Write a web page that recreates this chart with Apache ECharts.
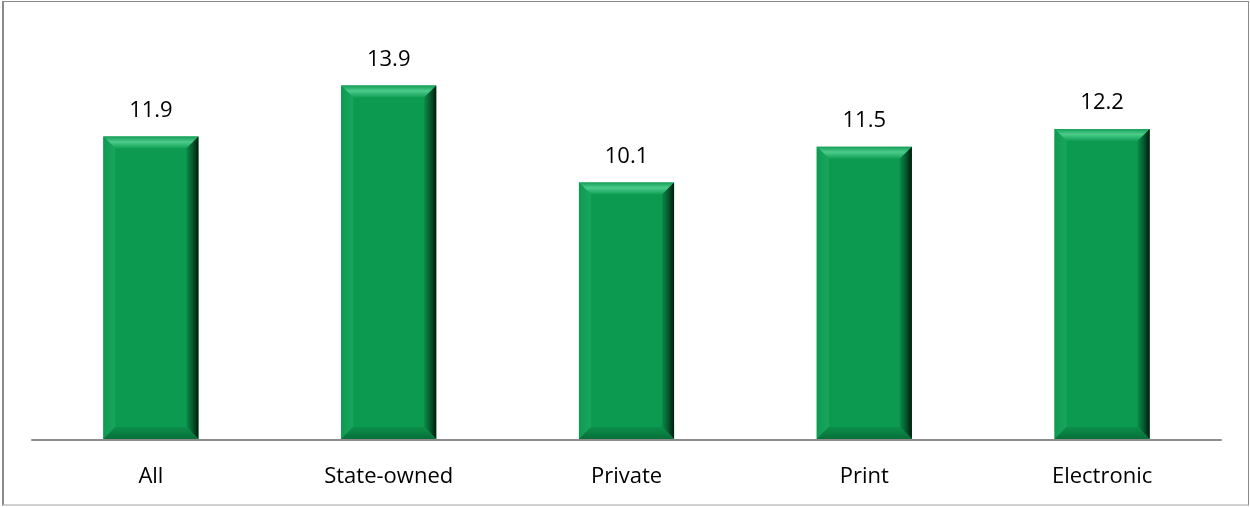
<!DOCTYPE html>
<html><head><meta charset="utf-8">
<script src="https://cdn.jsdelivr.net/npm/echarts@6/dist/echarts.min.js"></script>
<style>
html,body{margin:0;padding:0;background:#fff;}
#frame{position:absolute;left:2px;top:1px;width:1244px;height:502px;border:1px solid #8a8a8a;border-left-width:2px;border-bottom:2px solid #d0d0d0;}
#c{position:absolute;left:0;top:0;width:1250px;height:507px;}
</style></head>
<body>
<div id="frame"></div>
<div id="c"></div>
<script>
const categories = ['All', 'State-owned', 'Private', 'Print', 'Electronic'];
const values = [11.9, 13.9, 10.1, 11.5, 12.2];

const chart = echarts.init(document.getElementById('c'));
const B = 12;
const FONT = '"Open Sans", sans-serif';
function lin(x0,y0,x1,y1,stops){return new echarts.graphic.LinearGradient(x0,y0,x1,y1,stops.map((c,i)=>({offset:c[0],color:c[1]})));}
chart.setOption({
  animation:false,
  grid:{left:32,right:29,top:32,bottom:67},
  xAxis:{type:'category',data:categories,
    axisLine:{lineStyle:{color:'#8c8c8c',width:2}},
    axisTick:{show:false},
    axisLabel:{color:'#000',fontSize:22,fontFamily:FONT,margin:26}},
  yAxis:{type:'value',min:0,max:16,show:false,splitLine:{show:false}},
  series:[{
    type:'custom',
    data:values.map((v,i)=>[i,v]),
    encode:{x:0,y:1},
    renderItem:function(params,api){
      const i=api.value(0), v=api.value(1);
      const t=api.coord([i,v]), b=api.coord([i,0]);
      const w=api.size([1,0])[0]*0.4;
      const x0=t[0]-w/2, x1=t[0]+w/2, y0=t[1], y1=b[1]-1;
      return {type:'group',children:[
        {type:'rect',shape:{x:x0,y:y0,width:w,height:y1-y0},style:{fill:'#0b9a4f'}},
        {type:'polygon',shape:{points:[[x0,y0],[x1,y0],[x1-B,y0+B],[x0+B,y0+B]]},
          style:{fill:lin(0,0,0,1,[[0,'#169f57'],[0.45,'#4ccb8b'],[1,'#10a055']])}},
        {type:'polygon',shape:{points:[[x0,y0],[x0+B,y0+B],[x0+B,y1-B],[x0,y1]]},
          style:{fill:lin(0,0,1,0,[[0,'#0f9a52'],[1,'#18a65c']])}},
        {type:'polygon',shape:{points:[[x1,y0],[x1,y1],[x1-B,y1-B],[x1-B,y0+B]]},
          style:{fill:lin(0,0,1,0,[[0,'#0a8a46'],[0.5,'#075a2e'],[1,'#011a0c']])}},
        {type:'polygon',shape:{points:[[x0,y1],[x0+B,y1-B],[x1-B,y1-B],[x1,y1]]},
          style:{fill:lin(0,0,0,1,[[0,'#0b8f4a'],[1,'#086f39']])}},
        {type:'text',x:t[0],y:y0-26,style:{text:String(v.toFixed(1)),fill:'#000',
          font:'22px '+FONT,align:'center',verticalAlign:'middle'}}
      ]};
    }
  }]
});
</script>
</body></html>
